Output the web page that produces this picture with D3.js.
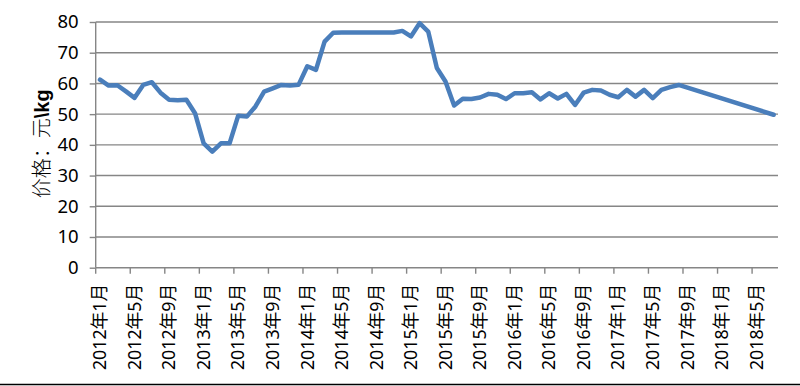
<!DOCTYPE html>
<html><head><meta charset="utf-8">
<script src="https://cdn.jsdelivr.net/npm/d3@7"></script>
<style>body{margin:0;background:#fff}svg{display:block}</style>
</head><body>
<svg id="c" width="800" height="386"></svg>
<script>
// Months 2012年1月 .. 2018年7月 (79 categories)
const startYear = 2012, monthCount = 79;
const categories = [];
for (let i = 0; i < monthCount; i++) {
  categories.push((startYear + Math.floor(i / 12)) + "年" + (i % 12 + 1) + "月");
}
const tickLabels = ["2012年1月","2012年5月","2012年9月","2013年1月","2013年5月","2013年9月",
  "2014年1月","2014年5月","2014年9月","2015年1月","2015年5月","2015年9月","2016年1月",
  "2016年5月","2016年9月","2017年1月","2017年5月","2017年9月","2018年1月","2018年5月"];
const prices = [
  61.2, 59.3, 59.4, 57.4, 55.3, 59.5, 60.4, 57.0, 54.7, 54.5,
  54.7, 50.3, 40.5, 37.8, 40.5, 40.5, 49.5, 49.2, 52.5, 57.3,
  58.4, 59.5, 59.3, 59.6, 65.6, 64.4, 73.6, 76.5, 76.6, 76.6,
  76.6, 76.6, 76.6, 76.6, 76.6, 77.1, 75.3, 79.6, 76.9, 65.0,
  60.6, 52.8, 55.0, 54.9, 55.4, 56.6, 56.3, 54.9, 56.8, 56.8,
  57.1, 54.8, 56.8, 55.1, 56.6, 53.0, 57.0, 57.9, 57.7, 56.3,
  55.5, 57.9, 55.7, 57.9, 55.2, 57.9, 58.8, 59.5,
  null, null, null, null, null, null, null, null, null, null,
  49.8
];
const yTicks = [0, 10, 20, 30, 40, 50, 60, 70, 80];
const yTitleMain = "价格：元";
const yTitleUnit = "\\kg";

(function () {
const svg = d3.select("#c");
const pL = 95.7, pR = 778, pT = 22, pB = 267.7;
const x = d3.scaleBand().domain(categories).range([pL, pR]).paddingInner(0).paddingOuter(0);
const y = d3.scaleLinear().domain([0, 80]).range([pB, pT]);
const grid = "#868686";
const font = "'Noto Sans', 'Noto Sans CJK SC', sans-serif";

// gridlines
svg.append("g").selectAll("line").data(yTicks.filter(d => d > 0)).join("line")
  .attr("x1", pL).attr("x2", pR)
  .attr("y1", d => y(d)).attr("y2", d => y(d))
  .attr("stroke", grid).attr("stroke-width", 1.4);

// y axis
const yAxis = d3.axisLeft(y).tickValues(yTicks).tickSize(6).tickPadding(11).tickFormat(d3.format("d"));
const gy = svg.append("g").attr("transform", `translate(${pL},0)`).call(yAxis);
gy.select(".domain").attr("stroke", grid).attr("stroke-width", 1.4).attr("d", `M0,${pT}V${pB}`);
gy.selectAll(".tick line").attr("stroke", grid).attr("stroke-width", 1.4);
gy.selectAll(".tick text").attr("font-family", font).attr("font-size", 18.5).attr("fill", "#000");

// x axis: ticks at band boundaries every 4 months
const tickIdx = d3.range(0, monthCount, 4);
const gx = svg.append("g");
gx.append("line").attr("x1", pL).attr("x2", pR).attr("y1", pB).attr("y2", pB)
  .attr("stroke", grid).attr("stroke-width", 1.4);
gx.selectAll("line.tk").data(tickIdx).join("line").attr("class", "tk")
  .attr("x1", i => x(categories[i])).attr("x2", i => x(categories[i]))
  .attr("y1", pB).attr("y2", pB + 6)
  .attr("stroke", grid).attr("stroke-width", 1.4);
gx.selectAll("text").data(tickLabels).join("text")
  .attr("transform", d => `translate(${x(d) + x.bandwidth() / 2},${pB + 16}) rotate(-90)`)
  .attr("text-anchor", "end").attr("dy", "0.35em")
  .attr("font-family", font).attr("font-size", 17.8).attr("fill", "#000")
  .text(d => d);

// y title
const tt = svg.append("text")
  .attr("transform", `translate(42,${(pT + pB) / 2 - 1}) rotate(-90)`)
  .attr("text-anchor", "middle").attr("dy", "0.35em")
  .attr("font-family", "'Noto Sans CJK SC', sans-serif").attr("font-size", 20).attr("fill", "#000");
tt.append("tspan").attr("font-weight", 300).text(yTitleMain);
tt.append("tspan").attr("font-family", "'Liberation Sans', sans-serif").attr("font-weight", "bold").text(yTitleUnit);

// line
const pts = prices.map((v, i) => ({c: categories[i], v})).filter(d => d.v !== null);
svg.append("path").datum(pts)
  .attr("fill", "none").attr("stroke", "#4a7ebb").attr("stroke-width", 4.5)
  .attr("stroke-linejoin", "round").attr("stroke-linecap", "round")
  .attr("d", d3.line().x(d => x(d.c) + x.bandwidth() / 2).y(d => y(d.v)));

// bottom border
svg.append("line").attr("x1", 0).attr("x2", 800).attr("y1", 384.5).attr("y2", 384.5)
  .attr("stroke", "#000").attr("stroke-width", 1.5);
})();
</script>
</body></html>
